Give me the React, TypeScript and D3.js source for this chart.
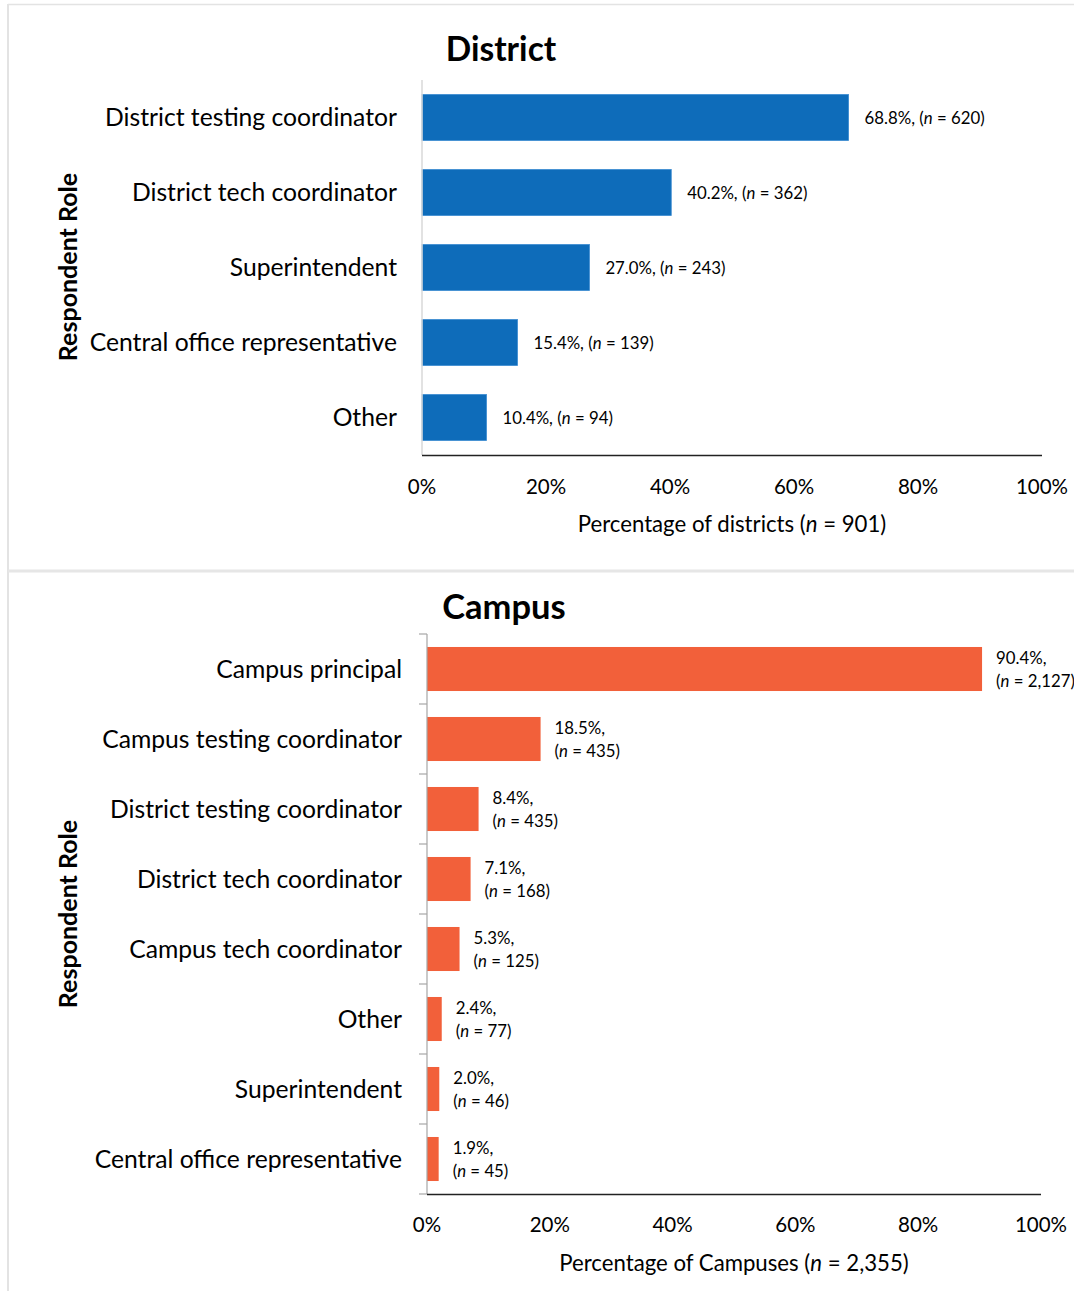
import React from "react";
import * as d3 from "d3";

const districtCategories = [
  "District testing coordinator",
  "District tech coordinator",
  "Superintendent",
  "Central office representative",
  "Other",
];
const districtValues = [68.8, 40.2, 27.0, 15.4, 10.4];
const districtN = ["620", "362", "243", "139", "94"];

const campusCategories = [
  "Campus principal",
  "Campus testing coordinator",
  "District testing coordinator",
  "District tech coordinator",
  "Campus tech coordinator",
  "Other",
  "Superintendent",
  "Central office representative",
];
const campusValues = [90.4, 18.5, 8.4, 7.1, 5.3, 2.4, 2.0, 1.9];
const campusN = ["2,127", "435", "435", "168", "125", "77", "46", "45"];

const xTicks = [0, 20, 40, 60, 80, 100];

const FONT = "Lato, 'Open Sans', sans-serif";
const CAT = 24.7;
const VAL = 16.8;

function District() {
  const x = d3.scaleLinear().domain([0, 100]).range([422, 1042]);
  const y = d3
    .scaleBand<string>()
    .domain(districtCategories)
    .range([80, 455])
    .paddingInner(0.387)
    .paddingOuter(0.1935);
  return (
    <g>
      <text x={501} y={61} textAnchor="middle" fontSize={33.5} fontWeight="bold" fill="#000">
        District
      </text>
      {districtCategories.map((c, i) => {
        const y0 = y(c)!;
        const bw = y.bandwidth();
        return (
          <g key={c}>
            <rect x={x(0)} y={y0} width={x(districtValues[i]) - x(0)} height={bw} fill="#0E6CBA" stroke="#3A8AD0" strokeWidth={0.8} />
            <text x={397} y={y0 + bw / 2} dy="0.35em" textAnchor="end" fontSize={CAT} fill="#000">
              {c}
            </text>
            <text x={x(districtValues[i]) + 16} y={y0 + bw / 2 + 1} dy="0.35em" fontSize={VAL} fill="#000">
              {districtValues[i].toFixed(1)}%, (<tspan fontStyle="italic">n</tspan> = {districtN[i]})
            </text>
          </g>
        );
      })}
      <line x1={422} x2={422} y1={80} y2={455} stroke="#d9d9d9" strokeWidth={1.5} />
      <line x1={422} x2={1042} y1={455.5} y2={455.5} stroke="#222" strokeWidth={1.5} />
      {xTicks.map((t) => (
        <text key={t} x={x(t)} y={487} dy="0.35em" textAnchor="middle" fontSize={20.5} fill="#000">
          {t}%
        </text>
      ))}
      <text x={732} y={524} dy="0.35em" textAnchor="middle" fontSize={22.2} fill="#000">
        Percentage of districts (<tspan fontStyle="italic">n</tspan> = 901)
      </text>
      <text transform="translate(68,267) rotate(-90)" dy="0.35em" textAnchor="middle" fontSize={25} fontWeight="bold" fill="#000">
        Respondent Role
      </text>
    </g>
  );
}

function Campus() {
  const x = d3.scaleLinear().domain([0, 100]).range([427, 1041]);
  const y = d3
    .scaleBand<string>()
    .domain(campusCategories)
    .range([634, 1194])
    .paddingInner(0.371)
    .paddingOuter(0.1855);
  const boundaries = d3.range(campusCategories.length + 1).map((i) => 634 + i * y.step());
  return (
    <g>
      <text x={504} y={619} textAnchor="middle" fontSize={34.5} fontWeight="bold" fill="#000">
        Campus
      </text>
      {campusCategories.map((c, i) => {
        const y0 = y(c)!;
        const bw = y.bandwidth();
        return (
          <g key={c}>
            <rect x={x(0)} y={y0} width={x(campusValues[i]) - x(0)} height={bw} fill="#F2603A" />
            <text x={402} y={y0 + bw / 2} dy="0.35em" textAnchor="end" fontSize={CAT} fill="#000">
              {c}
            </text>
            <text x={x(campusValues[i]) + 14} y={y0 + bw / 2 - 11} dy="0.35em" fontSize={VAL} fill="#000">
              {campusValues[i].toFixed(1)}%,
            </text>
            <text x={x(campusValues[i]) + 14} y={y0 + bw / 2 + 12} dy="0.35em" fontSize={VAL} fill="#000">
              (<tspan fontStyle="italic">n</tspan> = {campusN[i]})
            </text>
          </g>
        );
      })}
      {boundaries.map((b, i) => (
        <line key={i} x1={419} x2={427} y1={b} y2={b} stroke="#a6a6a6" strokeWidth={1.2} />
      ))}
      <line x1={427} x2={427} y1={634} y2={1194} stroke="#a6a6a6" strokeWidth={1.2} />
      <line x1={427} x2={1041} y1={1194.5} y2={1194.5} stroke="#222" strokeWidth={1.5} />
      {xTicks.map((t) => (
        <text key={t} x={x(t)} y={1225} dy="0.35em" textAnchor="middle" fontSize={20.5} fill="#000">
          {t}%
        </text>
      ))}
      <text x={734} y={1263} dy="0.35em" textAnchor="middle" fontSize={22.2} fill="#000">
        Percentage of Campuses (<tspan fontStyle="italic">n</tspan> = 2,355)
      </text>
      <text transform="translate(68,914) rotate(-90)" dy="0.35em" textAnchor="middle" fontSize={25} fontWeight="bold" fill="#000">
        Respondent Role
      </text>
    </g>
  );
}

export default function App() {
  return (
    <svg
      width={1074}
      height={1291}
      style={{ position: "absolute", left: 0, top: 0, fontFamily: FONT }}
      fontFamily={FONT}
    >
      <rect x={0} y={0} width={1074} height={1291} fill="#fff" />
      <line x1={8} x2={1074} y1={4.5} y2={4.5} stroke="#e3e3e3" strokeWidth={1.5} />
      <line x1={8} x2={8} y1={4} y2={1291} stroke="#e3e3e3" strokeWidth={2} />
      <line x1={8} x2={1074} y1={571} y2={571} stroke="#e6e6e6" strokeWidth={3} />
      <District />
      <Campus />
    </svg>
  );
}
